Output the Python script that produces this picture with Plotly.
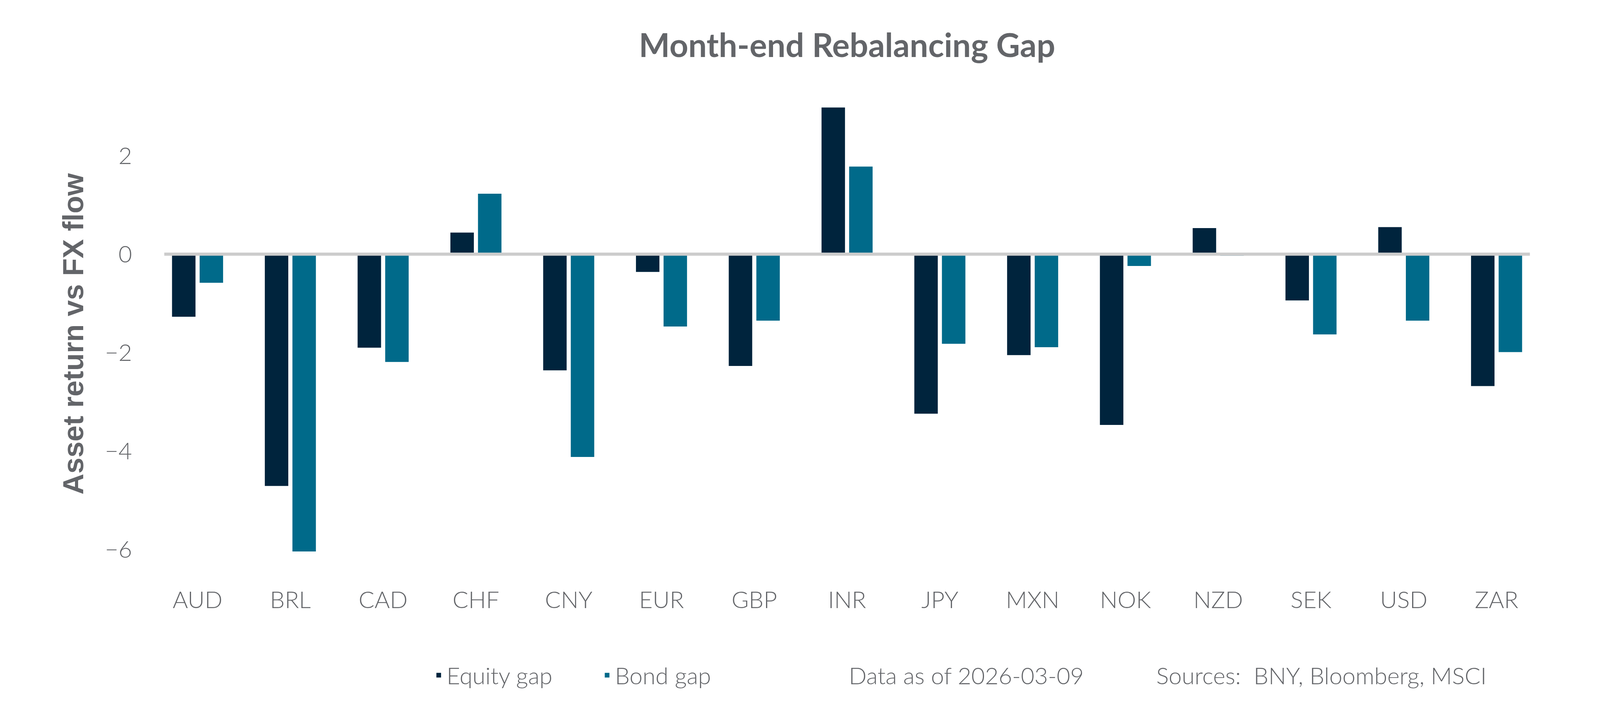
import plotly.graph_objects as go

# values
currencies = ["AUD", "BRL", "CAD", "CHF", "CNY", "EUR", "GBP", "INR",
              "JPY", "MXN", "NOK", "NZD", "SEK", "USD", "ZAR"]
equity_gap = [-1.27, -4.71, -1.90, 0.44, -2.36, -0.36, -2.27, 2.98,
              -3.24, -2.05, -3.47, 0.53, -0.94, 0.55, -2.68]
bond_gap = [-0.58, -6.04, -2.19, 1.23, -4.12, -1.47, -1.35, 1.78,
            -1.82, -1.89, -0.24, -0.03, -1.63, -1.35, -1.99]

EQUITY_COLOR = "#00243D"
BOND_COLOR = "#006A8A"
TEXT_GRAY = "#636569"
ZERO_GRAY = "#CCCCCC"

BODY_FONT = dict(family="Lato", size=60, color=TEXT_GRAY, weight=300)

fig = go.Figure()

fig.add_trace(go.Bar(x=currencies, y=equity_gap, name="Equity gap",
                     marker=dict(color=EQUITY_COLOR, line=dict(width=0))))
fig.add_trace(go.Bar(x=currencies, y=bond_gap, name="Bond gap",
                     marker=dict(color=BOND_COLOR, line=dict(width=0))))

# zero reference line, drawn over the bars
fig.add_shape(type="line", xref="paper", yref="y", x0=0.0094, x1=0.9906, y0=0, y1=0,
              line=dict(color=ZERO_GRAY, width=8), layer="above")

fig.add_annotation(text="Data as of 2026-03-09", xref="paper", yref="paper",
                   x=0.5007, y=-0.199, xanchor="left", yanchor="middle", showarrow=False,
                   font=BODY_FONT)
fig.add_annotation(text="Sources:&nbsp; BNY, Bloomberg, MSCI", xref="paper", yref="paper",
                   x=0.7216, y=-0.199, xanchor="left", yanchor="middle", showarrow=False,
                   font=BODY_FONT)

# no fixed size: the figure fills the browser window
fig.update_layout(
    autosize=True,
    paper_bgcolor="white",
    plot_bgcolor="white",
    barmode="group",
    bargap=0.405,
    bargroupgap=0.15,
    margin=dict(l=379, r=138, t=222, b=312),
    title=dict(text="Month-end Rebalancing Gap", x=0.5, xref="paper",
               y=0.939, yref="container", xanchor="center", yanchor="middle",
               font=dict(family="Lato", size=84, color=TEXT_GRAY, weight=700)),
    legend=dict(orientation="h", x=0.201, y=-0.199, xanchor="left", yanchor="middle",
                font=BODY_FONT, entrywidth=386, entrywidthmode="pixels",
                bgcolor="rgba(0,0,0,0)"),
    showlegend=True,
)

fig.update_xaxes(showgrid=False, showline=False, zeroline=False, ticks="",
                 tickfont=BODY_FONT, ticklabelstandoff=16)
fig.update_yaxes(range=[-6.58, 3.34], dtick=2, tick0=0,
                 showgrid=False, showline=False, zeroline=False, ticks="",
                 tickfont=BODY_FONT, ticklabelstandoff=48,
                 title=dict(text="Asset return vs FX flow", standoff=30,
                            font=dict(family="Liberation Sans", size=74, color=TEXT_GRAY, weight=700)))

fig.write_html("out.html")
